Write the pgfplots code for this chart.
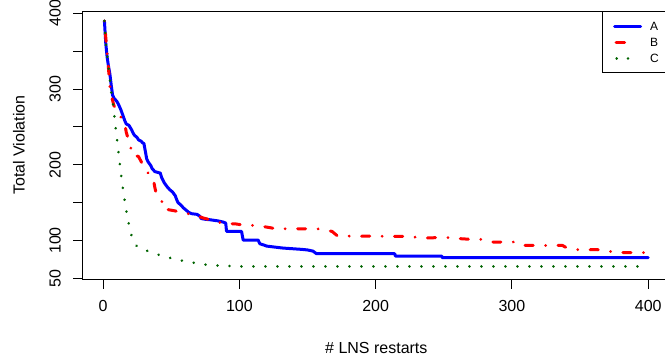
\documentclass[border=0pt]{standalone}
\usepackage{fontspec}
\setmainfont{Liberation Sans}
\usepackage{pgfplots}
\pgfplotsset{compat=1.18}
\definecolor{rblue}{RGB}{0,0,255}
\definecolor{rred}{RGB}{255,0,0}
\definecolor{rgreen}{RGB}{0,100,0}
\begin{document}
\begin{tikzpicture}
\path[use as bounding box] (0,0) rectangle (498.75pt,271.5pt);
\clip (0,0) rectangle (498.75pt,271.5pt);
\begin{axis}[
  at={(62pt,62pt)}, anchor=south west,
  scale only axis, width=440.5pt, height=201.2pt,
  xmin=-14.96, xmax=415.96, ymin=48.7, ymax=403,
  axis line style={black, line width=0.75pt},
  tick style={black, line width=0.75pt},
  tick align=outside, major tick length=7.2pt,
  xtick={0,100,200,300,400}, xticklabels={0,100,200,300,400},
  ytick={50,100,150,200,250,300,350,400},
  yticklabels={50,100,,200,,300,,400},
  xtick pos=bottom, ytick pos=left,
  every tick label/.append style={font=\fontsize{12}{14}\selectfont},
  xticklabel style={anchor=north, inner sep=0pt, yshift=-8.2pt},
  yticklabel style={xshift=-9pt, rotate=90, anchor=south, inner sep=0pt},
  xlabel={\# LNS restarts},
  ylabel={Total Violation},
  label style={font=\fontsize{12}{14}\selectfont},
  xlabel style={at={([yshift=-47pt]axis description cs:0.5,0)}, anchor=north, inner sep=0pt},
  ylabel style={at={([xshift=-43.2pt]axis description cs:0,0.5)}, rotate=0, anchor=south, inner sep=0pt},
  legend style={at={(1,1)}, anchor=north east, draw=black, line width=0.75pt,
    inner xsep=8pt, inner ysep=5pt, row sep=0pt,
    font=\fontsize{9}{10}\selectfont,
    nodes={inner sep=0pt, text height=9pt, text depth=3pt},
    /tikz/every odd column/.append style={column sep=6pt}},
  legend cell align=left,
  clip=false,
]
\addplot[rblue, line width=2.25pt, line join=round, line cap=round,
  legend image code/.code={\draw[rblue, line width=2.25pt, solid] (0pt,0pt) -- (19.5pt,0pt);}]
coordinates {
(1,390)(2,360)(3,342)(4,330)(5,320)(6,305)(7,292)(8,288)(9,286)(10,284)(11,281)(12,277)(13,273)(14,268)(15,263)(16,258)(17,254)(19,252)(20,249)(21,246)(22,242)(23,239)(25,236)(26,233)(28,231)(29,229)(30,228)(31,218)(32,208)(33,204)(35,199)(36,195)(38,191)(40,190)(42,189)(43,183)(45,176)(47,171)(49,167)(51,164)(53,159)(54,154)(55,150)(57,147)(59,143)(61,140)(63,137)(65,135.4)(69,134.5)(71,132)(72,129)(75,128)(78,127.5)(84,126)(88,124.4)(90,123)(90.6,112)(101.6,112)(102.8,100.5)(113.8,100.5)(115,95.7)(118,94)(120,92.6)(125,91.5)(132,90)(140,89)(145.6,88.3)(150,87.5)(154,86)(156.6,82.5)(214,82.5)(214.5,79.4)(248.4,79.4)(249,77.3)(400,77.3)
};
\addlegendentry{A}
\addplot[rred, line width=2.25pt, line join=round, line cap=round,
  dash pattern=on 0.01pt off 9.3pt on 6.1pt off 9.3pt,
  legend image code/.code={\draw[rred, line width=2.25pt, line cap=round, solid] (1pt,0pt) -- (7.5pt,0pt);}]
coordinates {
(1,390)(2,368)(3,347)(4,327)(5,303)(6,292)(7,285)(8,278)(10,273)(12,266)(14,260)(16,254)(17,243)(18,237)(20,228)(21,213)(26,211)(28,204)(30,196)(32,191)(35,186)(37,180)(38,170)(39,162)(41,158)(43,153)(44,142)(53,139)(62,135.4)(67,134.5)(73,130)(82,125.6)(89,122.2)(97,122)(104,120)(113,120)(120,117.7)(127,115.5)(157,115.5)(162,114)(168,112)(172,106)(215,105.4)(226,105.4)(230,104)(238,103.4)(246,103.8)(255,103.8)(262,102.4)(270,101.5)(279,101.5)(285,98)(301,98)(307,93.5)(337,93.5)(340,90.5)(346,88)(363,87.8)(369,86.5)(377,84)(400,84)
};
\addlegendentry{B}
\addplot[rgreen, line width=2.1pt, line cap=round,
  dash pattern=on 0.01pt off 8.99pt,
  legend image code/.code={\draw[rgreen, line width=2.1pt, line cap=round, dash pattern=on 0.01pt off 8.49pt] (1.5pt,0pt) -- (11pt,0pt);}]
coordinates {
(1,390)(2,362)(3,345)(4,328)(5,312)(6,296)(7,285)(8,270)(9,252)(10,238)(11,222)(12,206)(13,190)(14,176)(15,163)(16,151)(17,140)(18,130)(19,121)(20,112)(21,106)(23,97)(25,92)(28,89)(33,86)(40,81.6)(48,77.5)(56,74)(64,71.5)(73,68.5)(82,67)(90,66.5)(100,65.8)(400,65.8)
};
\addlegendentry{C}
\end{axis}
\end{tikzpicture}
\end{document}
